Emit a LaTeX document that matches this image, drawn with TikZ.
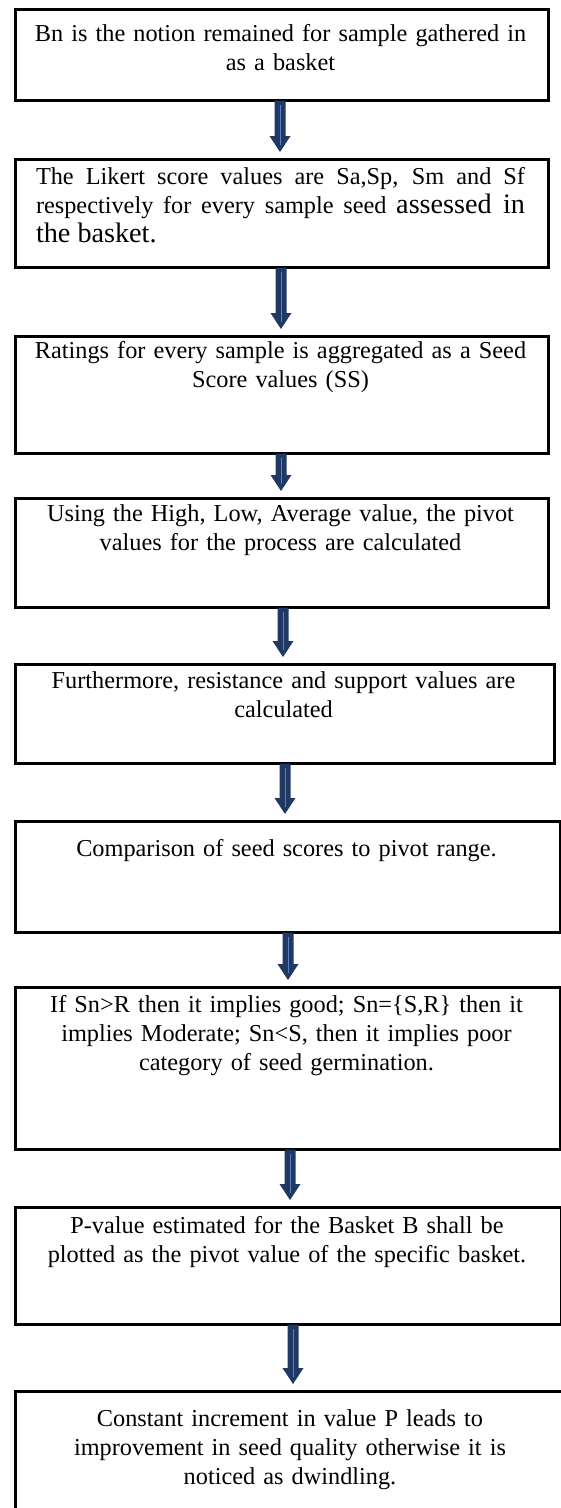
\documentclass[tikz,border=0pt]{standalone}
\usepackage{fontspec}
\setmainfont{Liberation Serif}
\usetikzlibrary{calc}
\definecolor{arrnavy}{HTML}{1F3864}
\definecolor{arrline}{HTML}{5B82BE}
\tikzset{
  flowbox/.style={draw=black, line width=3.2pt, anchor=north west, inner sep=0pt, fill=white},
  flowtext/.style={anchor=north, inner sep=0pt, align=center, text width=530pt,
    font=\fontsize{24.3}{29}\selectfont},
  arrowbody/.style={fill=arrnavy},
  arrowmid/.style={draw=arrline, line width=0.7pt},
}
\newcommand\mkbox[5]{% name, left, top, right, bottom
  \node[flowbox, minimum width={#4-#2}, minimum height={#5-#3}] (#1) at (#2,#3) {};}
\newcommand\flowarrow[3]{% from, to, x
  \fill[arrowbody] let \p1=(#1.south), \p2=(#2.north) in
    (#3pt-5.5pt,\y1+1.5pt) -- (#3pt+5.5pt,\y1+1.5pt) -- (#3pt+5.5pt,\y2+22pt)
    -- (#3pt+10.5pt,\y2+22pt) -- (#3pt,\y2+6pt) -- (#3pt-10.5pt,\y2+22pt)
    -- (#3pt-5.5pt,\y2+22pt) -- cycle;
  \draw[arrowmid] let \p1=(#1.south), \p2=(#2.north) in
    (#3pt,\y1-3pt) -- (#3pt,\y2+13pt);}
\begin{document}
\begin{tikzpicture}[x=1pt,y=-1pt]
\useasboundingbox (0,0) rectangle (561,1508);
\fill[white] (0,0) rectangle (561,1508);
\clip (0,0) rectangle (561,1508);

\mkbox{b1}{14}{8}{547}{99}
\mkbox{b2}{14}{158}{547}{266}
\mkbox{b3}{14}{335}{547}{452}
\mkbox{b4}{14}{497}{547}{606}
\mkbox{b5}{14}{663}{553}{762}
\mkbox{b6}{14}{820}{559}{931}
\mkbox{b7}{14}{986}{559}{1148}
\mkbox{b8}{14}{1206}{560}{1323}
\mkbox{b9}{14}{1390}{568}{1530}

\node[flowtext] (t1) at (280.5,20.7) {\strut Bn is the notion remained for sample gathered in\\as a basket};
\node[flowtext, text width=489pt, align=justify] (t2) at (280.5,163.7) {\strut The Likert score values are Sa,Sp, Sm and Sf\linebreak
respectively for every sample seed {\fontsize{28.2}{29}\selectfont assessed in}\linebreak
{\fontsize{28.2}{29}\selectfont\vrule width 0pt height 22pt the basket.}};
\node[flowtext] (t3) at (280.5,337.7) {\strut Ratings for every sample is aggregated as a Seed\\Score values (SS)};
\node[flowtext] (t4) at (280.5,500.7) {\strut Using the High, Low, Average value, the pivot\\values for the process are calculated};
\node[flowtext] (t5) at (283.5,667.7) {\strut Furthermore, resistance and support values are\\calculated};
\node[flowtext] (t6) at (286.5,835.7) {\strut Comparison of seed scores to pivot range.};
\node[flowtext] (t7) at (286.5,991.7) {\strut If Sn>R then it implies good; Sn=\{S,R\} then it\\implies Moderate; Sn<S, then it implies poor\\category of seed germination.};
\node[flowtext] (t8) at (287,1212.7) {\strut P-value estimated for the Basket B shall be\\plotted as the pivot value of the specific basket.};
\node[flowtext] (t9) at (290,1405.7) {\strut Constant increment in value P leads to\\improvement in seed quality otherwise it is\\noticed as dwindling.};

\flowarrow{b1}{b2}{280}
\flowarrow{b2}{b3}{281}
\flowarrow{b3}{b4}{281}
\flowarrow{b4}{b5}{283}
\flowarrow{b5}{b6}{285}
\flowarrow{b6}{b7}{288}
\flowarrow{b7}{b8}{290}
\flowarrow{b8}{b9}{293}
\end{tikzpicture}
\end{document}
